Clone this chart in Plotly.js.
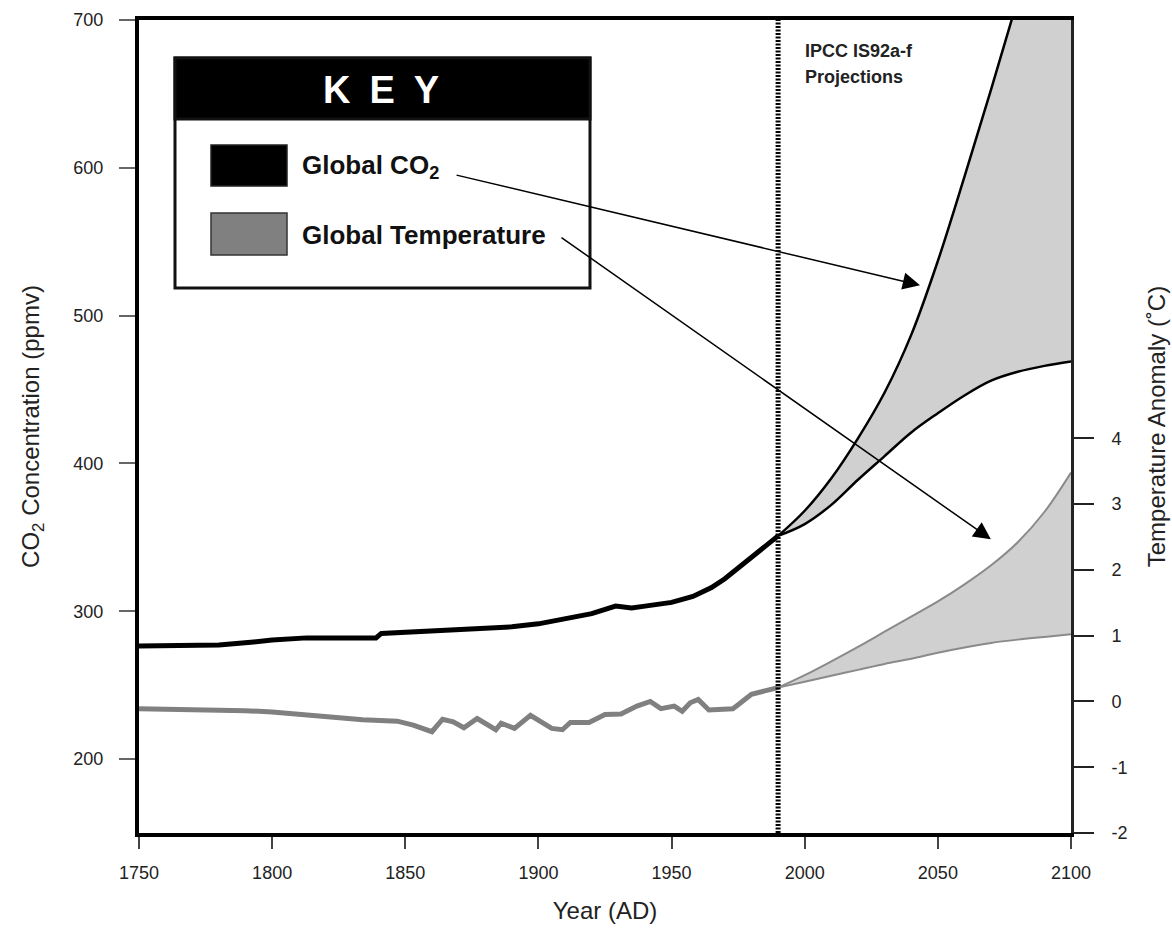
<!DOCTYPE html>
<html>
<head>
<meta charset="utf-8">
<script src="https://cdn.plot.ly/plotly-3.0.1.min.js"></script>
<style>
  html, body { margin: 0; padding: 0; background: #ffffff; }
  #chart { width: 1172px; height: 929px; }
</style>
</head>
<body>
<div id="chart"></div>
<script>
// ---------------- DATA ----------------
// Historical CO2 (ppmv)
const co2HistYears = [1750, 1765, 1780, 1792, 1800, 1813, 1825, 1839, 1841, 1850, 1860, 1870, 1880, 1890, 1900, 1910, 1920, 1929, 1935, 1940, 1950, 1958, 1965, 1970, 1975, 1980, 1985, 1990];
const co2Hist      = [276.5, 277, 277.2, 279, 280.5, 282, 282, 282, 285, 285.8, 286.8, 287.5, 288.2, 289.5, 291.5, 295, 298.4, 303.5, 302.2, 303.5, 306, 310, 316, 322, 329, 336, 343, 351];

// Historical temperature anomaly (deg C)
const tempHistYears = [1750, 1779, 1790, 1800, 1809, 1822, 1834, 1847, 1853, 1860, 1864, 1868, 1872, 1877, 1884, 1886, 1891, 1897, 1901, 1905, 1909, 1912, 1919, 1925, 1931, 1937, 1942, 1946, 1951, 1954, 1957, 1960, 1964, 1973, 1975, 1980, 1985, 1990];
const tempHist      = [-0.11, -0.12, -0.14, -0.16, -0.19, -0.24, -0.28, -0.30, -0.36, -0.46, -0.27, -0.31, -0.40, -0.26, -0.43, -0.33, -0.41, -0.21, -0.30, -0.41, -0.43, -0.32, -0.32, -0.20, -0.19, -0.07, 0.00, -0.11, -0.07, -0.15, -0.02, 0.03, -0.13, -0.11, -0.05, 0.11, 0.16, 0.21];

// IPCC IS92a-f projection envelopes
const projYears = [1990, 2000, 2010, 2020, 2030, 2040, 2050, 2060, 2070, 2080, 2090, 2100];
const co2Low    = [351, 359, 372, 389, 405, 421, 434, 446, 456, 462, 466, 469];
const co2High   = [351, 368, 390, 417, 448, 487, 537, 594, 653, 714, 778, 845];
const tempLow   = [0.21, 0.30, 0.39, 0.48, 0.57, 0.65, 0.74, 0.82, 0.89, 0.94, 0.98, 1.02];
const tempHigh  = [0.21, 0.40, 0.61, 0.83, 1.06, 1.29, 1.52, 1.78, 2.07, 2.42, 2.88, 3.48];

const projStartYear = 1990;

// Ticks
const yearTicks = [1750, 1800, 1850, 1900, 1950, 2000, 2050, 2100];
const co2Ticks  = [200, 300, 400, 500, 600, 700];
const tempTicks = [-2, -1, 0, 1, 2, 3, 4];

// Axis ranges
const yearRange = [1750, 2100];
const co2Range  = [150, 700];
const tempRange = [-2.0, 10.36];

// Text
const keyTitle = 'K\u2002E\u2002Y';
const keyLabels = ['Global CO<sub>2</sub>', 'Global Temperature'];
const projLabel = ['IPCC IS92a-f', 'Projections'];

// ---------------- LAYOUT HELPERS ----------------
const M = { l: 139, r: 101, t: 20, b: 96 };
const W = 1172, H = 929;
const PW = W - M.l - M.r, PH = H - M.t - M.b;
const px = x => (x - M.l) / PW;          // pixel -> paper x
const py = y => (H - M.b - y) / PH;      // pixel -> paper y

const FONT = 'Liberation Sans, Arial, Helvetica, sans-serif';
const BLACK = '#000000';
const GRAY_LINE = '#808080';
const GRAY_PROJ = '#8a8a8a';
const FILL = '#d0d0d0';

// ---------------- TRACES ----------------
const traces = [
  { x: projYears, y: co2Low, type: 'scatter', mode: 'lines',
    line: { color: BLACK, width: 2.5, shape: 'spline', smoothing: 1 }, hoverinfo: 'skip' },
  { x: projYears, y: co2High, type: 'scatter', mode: 'lines', fill: 'tonexty', fillcolor: FILL,
    line: { color: BLACK, width: 2.5, shape: 'spline', smoothing: 1 }, hoverinfo: 'skip' },
  { x: co2HistYears, y: co2Hist, type: 'scatter', mode: 'lines',
    line: { color: BLACK, width: 5 }, name: 'Global CO2' },
  { x: projYears, y: tempLow, type: 'scatter', mode: 'lines', yaxis: 'y2',
    line: { color: GRAY_PROJ, width: 2, shape: 'spline', smoothing: 1 }, hoverinfo: 'skip' },
  { x: projYears, y: tempHigh, type: 'scatter', mode: 'lines', yaxis: 'y2', fill: 'tonexty', fillcolor: FILL,
    line: { color: GRAY_PROJ, width: 2, shape: 'spline', smoothing: 1 }, hoverinfo: 'skip' },
  { x: tempHistYears, y: tempHist, type: 'scatter', mode: 'lines', yaxis: 'y2',
    line: { color: GRAY_LINE, width: 5 }, name: 'Global Temperature' }
];

// ---------------- SHAPES ----------------
const shapes = [
  // projection start marker
  { type: 'line', xref: 'x', yref: 'paper', x0: projStartYear, x1: projStartYear, y0: 0, y1: 1,
    line: { color: BLACK, width: 5, dash: '2px,1.5px' }, layer: 'above' },
  // key box
  { type: 'rect', xref: 'paper', yref: 'paper', x0: px(175), x1: px(590), y0: py(288), y1: py(58),
    fillcolor: '#ffffff', line: { color: '#111', width: 3 }, layer: 'above' },
  { type: 'rect', xref: 'paper', yref: 'paper', x0: px(175), x1: px(590), y0: py(119), y1: py(58),
    fillcolor: BLACK, line: { color: '#111', width: 3 }, layer: 'above' },
  { type: 'rect', xref: 'paper', yref: 'paper', x0: px(211), x1: px(287), y0: py(186), y1: py(145),
    fillcolor: BLACK, line: { color: '#222', width: 1.5 }, layer: 'above' },
  { type: 'rect', xref: 'paper', yref: 'paper', x0: px(211), x1: px(287), y0: py(255), y1: py(213),
    fillcolor: GRAY_LINE, line: { color: '#333', width: 1.5 }, layer: 'above' }
];

// ---------------- ANNOTATIONS ----------------
const annotations = [
  { xref: 'paper', yref: 'paper', x: px(381), y: py(90), text: '<b>' + keyTitle + '</b>', showarrow: false,
    font: { family: FONT, size: 38, color: '#ffffff' }, xanchor: 'center', yanchor: 'middle' },
  { xref: 'paper', yref: 'paper', x: px(300), y: py(166), text: '<b>' + keyLabels[0] + '</b>', showarrow: false,
    font: { family: FONT, size: 26, color: '#111' }, xanchor: 'left', yanchor: 'middle' },
  { xref: 'paper', yref: 'paper', x: px(300), y: py(235), text: '<b>' + keyLabels[1] + '</b>', showarrow: false,
    font: { family: FONT, size: 26, color: '#111' }, xanchor: 'left', yanchor: 'middle' },
  { xref: 'paper', yref: 'paper', x: px(803), y: py(51), text: '<b>' + projLabel[0] + '</b>', showarrow: false,
    font: { family: FONT, size: 18, color: '#222' }, xanchor: 'left', yanchor: 'middle' },
  { xref: 'paper', yref: 'paper', x: px(803), y: py(77), text: '<b>' + projLabel[1] + '</b>', showarrow: false,
    font: { family: FONT, size: 18, color: '#222' }, xanchor: 'left', yanchor: 'middle' },
  // arrows from key to curves
  { xref: 'x', yref: 'y', axref: 'x', ayref: 'y', x: 2043.3, y: 520.6, ax: 1868.7, ay: 595.3, text: '',
    showarrow: true, arrowhead: 2, arrowsize: 2.3, arrowwidth: 1.5, arrowcolor: BLACK, standoff: 0 },
  { xref: 'x', yref: 'y', axref: 'x', ayref: 'y', x: 2069.9, y: 348.7, ax: 1908.1, ay: 553.5, text: '',
    showarrow: true, arrowhead: 2, arrowsize: 2.3, arrowwidth: 1.5, arrowcolor: BLACK, standoff: 0 }
];

// ---------------- LAYOUT ----------------
const tickFont = { family: FONT, size: 18, color: '#222' };
const titleFont = { family: FONT, size: 24, color: '#222' };

const layout = {
  width: W, height: H,
  margin: M,
  paper_bgcolor: '#ffffff', plot_bgcolor: '#ffffff',
  showlegend: false,
  xaxis: {
    range: yearRange, tickvals: yearTicks, ticktext: yearTicks.map(String),
    ticks: 'outside', ticklen: 12, tickwidth: 2, tickcolor: '#444',
    showline: true, linewidth: 4, linecolor: BLACK, mirror: true,
    showgrid: false, zeroline: false, tickfont: tickFont, ticklabelstandoff: 8,
    title: { text: 'Year (AD)', font: titleFont, standoff: 22 }
  },
  yaxis: {
    range: co2Range, tickvals: co2Ticks, ticktext: co2Ticks.map(String),
    ticks: 'outside', ticklen: 16, tickwidth: 2, tickcolor: '#666',
    showline: true, linewidth: 4, linecolor: BLACK,
    showgrid: false, zeroline: false, tickfont: tickFont, ticklabelstandoff: 12,
    title: { text: 'CO<sub>2</sub> Concentration (ppmv)', font: titleFont, standoff: 28 }
  },
  yaxis2: {
    overlaying: 'y', side: 'right',
    range: tempRange, tickvals: tempTicks, ticktext: tempTicks.map(String),
    ticks: 'outside', ticklen: 20, tickwidth: 2, tickcolor: '#222',
    showline: true, linewidth: 3, linecolor: '#222',
    showgrid: false, zeroline: false, tickfont: tickFont, ticklabelstandoff: 14,
    title: { text: 'Temperature Anomaly (\u02DAC)', font: titleFont, standoff: 22 }
  },
  shapes: shapes,
  annotations: annotations
};

Plotly.newPlot('chart', traces, layout, { staticPlot: true, displayModeBar: false });
</script>
</body>
</html>
